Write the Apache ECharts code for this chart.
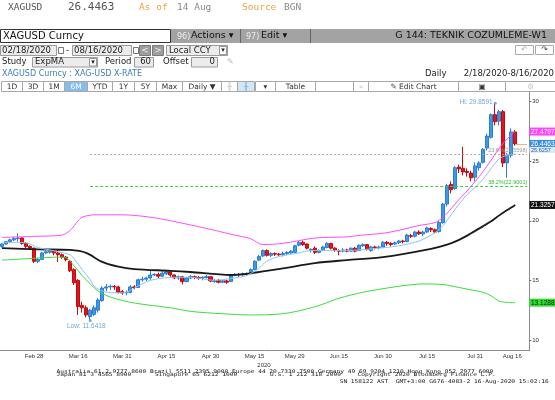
<!DOCTYPE html>
<html>
<head>
<meta charset="utf-8">
<script src="https://cdn.jsdelivr.net/npm/echarts@6.0.0/dist/echarts.min.js"></script>
<style>
  html, body { margin: 0; padding: 0; background: #fff; }
  #main { width: 555px; height: 400px; }
</style>
</head>
<body>
<div id="main"></div>
<script>
// trading days shown on the chart (MM-DD, 2020)
var days = [
  '02-18','02-19','02-20','02-21','02-24','02-25','02-26','02-27','02-28',
  '03-02','03-03','03-04','03-05','03-06','03-09','03-10','03-11','03-12','03-13','03-16','03-17','03-18','03-19','03-20','03-23','03-24','03-25','03-26','03-27','03-30','03-31',
  '04-01','04-02','04-03','04-06','04-07','04-08','04-09','04-10','04-13','04-14','04-15','04-16','04-17','04-20','04-21','04-22','04-23','04-24','04-27','04-28','04-29','04-30',
  '05-01','05-04','05-05','05-06','05-07','05-08','05-11','05-12','05-13','05-14','05-15','05-18','05-19','05-20','05-21','05-22','05-25','05-26','05-27','05-28','05-29',
  '06-01','06-02','06-03','06-04','06-05','06-08','06-09','06-10','06-11','06-12','06-15','06-16','06-17','06-18','06-19','06-22','06-23','06-24','06-25','06-26','06-29','06-30',
  '07-01','07-02','07-03','07-06','07-07','07-08','07-09','07-10','07-13','07-14','07-15','07-16','07-17','07-20','07-21','07-22','07-23','07-24','07-27','07-28','07-29','07-30','07-31',
  '08-03','08-04','08-05','08-06','08-07','08-10','08-11','08-12','08-13','08-14'
];
// empty slots at the right end of the axis (up to the 8/16 end date)
var padDays = ['08-15','08-16','08-17'];

// daily candles: [open, close, low, high]
var candles = [
  [17.85,18.05,17.75,18.10],[18.05,18.25,18.00,18.30],[18.25,18.40,18.15,18.50],[18.40,18.50,18.30,18.65],[18.50,18.55,18.25,18.95],[18.55,18.10,18.00,18.60],[18.10,17.85,17.70,18.20],[17.85,17.70,17.55,17.95],[17.70,16.60,16.45,17.75],
  [16.60,16.75,16.45,16.90],[16.75,17.30,16.70,17.40],[17.30,17.40,17.20,17.50],[17.35,17.45,17.25,17.55],[17.45,17.30,17.10,17.60],[17.30,17.15,16.55,17.55],[17.15,16.95,16.80,17.25],[16.95,16.75,16.60,17.05],[16.60,15.80,15.70,16.70],[15.90,14.80,14.60,16.00],[15.00,12.80,12.10,15.10],[12.90,12.70,12.30,13.20],[12.70,12.10,11.90,12.90],[11.95,12.50,11.6418,12.60],[12.15,12.70,12.00,12.90],[12.50,13.35,12.30,13.50],[13.30,14.35,13.20,14.50],[14.35,14.45,14.10,14.70],[14.45,14.50,14.20,14.65],[14.50,14.45,14.20,14.60],[14.45,14.00,13.90,14.55],[14.05,13.95,13.80,14.20],
  [13.95,14.00,13.75,14.15],[14.00,14.45,13.90,14.60],[14.45,14.40,14.25,14.60],[14.40,15.05,14.35,15.15],[15.05,15.10,14.90,15.30],[15.10,15.20,14.95,15.30],[15.20,15.45,15.05,15.90],[15.45,15.50,15.35,15.60],[15.50,15.35,15.20,15.65],[15.35,15.60,15.30,15.75],[15.55,15.70,15.45,15.80],[15.70,15.45,15.30,15.75],[15.45,15.20,15.10,15.50],[15.20,15.30,15.05,15.40],[15.30,14.90,14.65,15.35],[14.90,15.20,14.85,15.30],[15.20,15.30,15.10,15.45],[15.30,15.25,15.10,15.40],[15.25,15.20,15.05,15.35],[15.20,15.25,15.00,15.35],[15.25,15.30,15.15,15.45],[15.30,14.95,14.85,15.35],
  [14.90,15.00,14.80,15.10],[15.00,14.85,14.75,15.10],[14.85,14.95,14.80,15.05],[14.95,14.85,14.70,15.05],[14.90,15.40,14.85,15.50],[15.40,15.50,15.35,15.60],[15.50,15.45,15.30,15.60],[15.45,15.55,15.35,15.65],[15.55,15.50,15.40,15.65],[15.55,15.90,15.50,16.00],[15.90,16.60,15.85,16.70],[16.70,17.00,16.60,17.15],[17.05,17.50,16.95,17.60],[17.50,17.10,17.00,17.60],[17.10,17.25,16.95,17.35],[17.25,17.20,17.05,17.35],[17.20,17.15,17.05,17.30],[17.15,17.25,17.00,17.40],[17.25,17.35,17.10,17.45],[17.30,17.45,17.20,17.55],[17.35,17.90,17.30,18.00],
  [17.95,18.20,17.85,18.30],[18.20,18.00,17.90,18.35],[18.05,17.70,17.60,18.10],[17.50,17.60,17.35,17.70],[17.70,17.35,17.20,17.85],[17.35,17.50,17.25,17.60],[17.50,17.80,17.45,17.90],[17.75,18.10,17.70,18.20],[18.10,17.70,17.60,18.15],[17.70,17.50,17.40,17.80],[17.50,17.45,17.10,17.60],[17.45,17.55,17.35,17.70],[17.55,17.45,17.35,17.65],[17.45,17.70,17.40,17.75],[17.70,17.45,17.35,17.80],[17.50,17.95,17.45,18.00],[17.90,18.00,17.80,18.10],[18.00,17.60,17.50,18.05],[17.50,17.80,17.40,17.90],[17.80,17.75,17.60,17.90],[17.75,17.80,17.60,17.90],[17.80,18.20,17.75,18.30],
  [18.20,18.10,17.90,18.30],[18.10,18.00,17.85,18.20],[18.05,18.15,17.95,18.25],[18.15,18.30,18.05,18.40],[18.30,18.25,18.10,18.40],[18.25,18.80,18.20,18.90],[18.75,18.70,18.55,18.90],[18.70,19.05,18.60,19.15],[19.05,18.90,18.80,19.20],[18.90,19.05,18.70,19.15],[19.05,19.40,19.00,19.50],[19.35,19.25,19.05,19.45],[19.25,19.05,18.95,19.35],[19.10,19.85,19.00,20.00],[19.85,21.40,19.75,21.50],[21.40,22.95,21.20,23.10],[23.05,22.60,22.30,23.30],[22.70,24.45,22.60,24.60],[24.50,24.35,24.00,24.70],[24.40,24.10,23.80,26.20],[24.15,24.05,23.70,24.40],[24.00,23.60,23.30,24.20],[23.65,24.60,23.30,24.90],
  [24.45,24.85,24.20,25.00],[24.90,26.00,24.80,26.10],[26.10,27.10,25.90,27.30],[27.00,28.90,26.90,29.00],[28.90,28.30,28.00,29.8591],[28.35,29.15,28.00,29.30],[29.15,24.85,24.50,29.30],[24.85,25.50,23.60,25.70],[25.50,27.45,25.30,27.75],[27.45,26.4463,26.30,27.60]
];

// study lines: [day index, value]
var upperBand = [[0,18.6],[9,18.7],[15,18.8],[17,19.2],[19,20.0],[20,20.3],[23,20.5],[30,20.5],[38,20.25],[47,19.65],[53,19.2],[58,18.8],[62,18.5],[65,18.0],[70,18.1],[78,18.55],[86,18.65],[90,18.8],[95,18.95],[99,19.2],[104,19.6],[108,19.85],[110,20.3],[112,21.0],[114,21.8],[116,22.5],[117,22.9],[119,23.7],[121,24.6],[123,25.6],[125,26.5],[127,27.2],[128,27.4797]];
var lowerBand = [[0,16.7],[8,16.85],[14,16.95],[16,16.9],[18,16.2],[20,15.4],[22,14.7],[24,14.1],[27,13.6],[33,13.1],[42,12.7],[47,12.4],[55,12.2],[62,12.1],[70,12.2],[76,12.6],[80,13.0],[84,13.5],[90,14.0],[95,14.3],[100,14.55],[105,14.7],[110,14.65],[114,14.4],[117,14.2],[120,14.0],[122,13.7],[124,13.25],[126,13.15],[128,13.1288]];
var expMa = [[0,17.7],[9,17.6],[17,17.55],[21,17.3],[25,16.55],[29,16.15],[33,15.95],[42,15.8],[47,15.7],[57,15.45],[62,15.6],[70,16.0],[78,16.45],[86,16.7],[95,16.95],[107,17.65],[111,18.0],[114,18.4],[117,18.95],[120,19.55],[122,19.95],[124,20.45],[126,20.9],[128,21.3257]];
var shortMa = [[0,18.2],[6,18.15],[9,17.75],[12,17.55],[14,17.4],[17,17.15],[18,16.8],[20,15.9],[22,15.05],[23,14.5],[25,14.1],[28,13.95],[31,14.0],[33,14.35],[37,15.0],[43,15.25],[47,15.25],[53,15.0],[57,15.15],[61,15.4],[64,16.0],[66,16.6],[69,17.0],[74,17.3],[77,17.5],[82,17.5],[86,17.5],[94,17.7],[99,17.9],[104,18.3],[108,19.0],[110,19.6],[112,20.5],[114,21.4],[116,22.2],[118,22.8],[120,23.5],[122,24.4],[124,25.2],[126,25.5],[128,25.6257]];

// fibonacci retracement between the low and the high
var fibLevels = [25.5598, 22.9001];
var fibNames = ['23.6%(25.5598)', '38.2%(22.9001)'];
var lowPoint = ['03-19', 11.6418];
var highPoint = ['08-07', 29.8591];
var lastPrice = 26.4463;

// right-hand value tags (upper band, last, short ma, expma, lower band)
var endTags = [27.4797, 26.4463, 25.6257, 21.3257, 13.1288];

var yTicks = [10, 15, 20, 25, 30];
var tickDays = ['02-28','03-16','03-31','04-15','04-30','05-15','05-29','06-15','06-30','07-15','07-31','08-16'];
var tickText = ['Feb 28','Mar 16','Mar 31','Apr 15','Apr 30','May 15','May 29','Jun 15','Jun 30','Jul 15','Jul 31','Aug 16'];

var SANS = "'Liberation Sans', Arial, sans-serif";
var allDays = days.concat(padDays);
function pairs(arr) { return arr.map(function (p) { return [days[p[0]], p[1]]; }); }
function isTick(i, v) { return tickDays.indexOf(v) >= 0; }

var myChart = echarts.init(document.getElementById('main'));

function lineSeries(data, color, width) {
  return {
    type: 'line', data: pairs(data), symbol: 'none', smooth: 0.3, z: 3,
    lineStyle: { color: color, width: width }, silent: true
  };
}

myChart.setOption({
  animation: false,
  backgroundColor: '#fff',
  textStyle: { fontFamily: SANS },
  grid: { left: -4.02, top: 92, width: 533.3, height: 258.7 },
  xAxis: {
    type: 'category', data: allDays, boundaryGap: true,
    axisLine: { lineStyle: { color: '#8c8c8c', width: 1 } },
    axisTick: { interval: isTick, alignWithLabel: true, length: 2, lineStyle: { color: '#999' } },
    axisLabel: {
      interval: isTick, fontSize: 6, color: '#333', margin: 3,
      formatter: function (v) {
        var t = tickText[tickDays.indexOf(v)];
        return v === '08-16' ? '{e|' + t + '}' : t;
      },
      rich: { e: { fontSize: 6, color: '#333', padding: [0, 22, 0, 0] } }
    },
    splitLine: { show: false }
  },
  yAxis: {
    type: 'value', position: 'right', min: 9.1, max: 30.8, scale: true,
    axisLine: { show: true, lineStyle: { color: '#8c8c8c' } },
    axisTick: { show: true, length: 2, customValues: yTicks, lineStyle: { color: '#666' } },
    axisLabel: { customValues: yTicks, fontSize: 6, color: '#333', margin: 3 },
    splitLine: { show: false }
  },
  series: [
    {
      type: 'candlestick', data: candles, barWidth: 3.6, z: 2,
      itemStyle: { color: '#3f97ec', color0: '#e5141a', borderColor: '#2a7fd2', borderColor0: '#c20a0f', borderWidth: 1 },
      markLine: {
        symbol: 'none', silent: true, animation: false,
        data: [
          [{ coord: [lowPoint[0], fibLevels[0]], lineStyle: { color: '#a6a6a6', type: [2, 2], width: 1 },
             label: { show: true, position: 'insideEndTop', formatter: fibNames[0], color: '#9a9a9a', fontSize: 5.5, distance: [0, 1] } },
           { coord: [padDays[2], fibLevels[0]] }],
          [{ coord: [lowPoint[0], fibLevels[1]], lineStyle: { color: '#3ccc3c', type: [3, 2], width: 1 },
             label: { show: true, position: 'insideEndTop', formatter: fibNames[1], color: '#33bb33', fontSize: 5.5, distance: [0, 1] } },
           { coord: [padDays[2], fibLevels[1]] }],
          [{ coord: [days[days.length - 1], lastPrice], lineStyle: { color: '#f5b377', type: 'solid', width: 1 }, label: { show: false } },
           { coord: [padDays[2], lastPrice] }]
        ]
      },
      markPoint: {
        silent: true, animation: false,
        data: [
          { coord: lowPoint, symbol: 'circle', symbolSize: 3, itemStyle: { color: '#6fa8dc' },
            label: { show: true, position: 'bottom', distance: 1, offset: [-4, 0], formatter: 'Low: 11.6418', color: '#6fa8dc', fontSize: 6.5 } },
          { coord: highPoint, symbol: 'circle', symbolSize: 3, itemStyle: { color: '#6fa8dc' },
            label: { show: true, position: 'left', distance: 1, offset: [0, -1], formatter: 'Hi: 29.8591', color: '#6fa8dc', fontSize: 6.5 } }
        ]
      }
    },
    lineSeries(lowerBand, '#3ddc3d', 1),
    lineSeries(expMa, '#1a1a1a', 1.8),
    lineSeries(shortMa, '#8cc6f4', 1),
    lineSeries(upperBand, '#ff4cff', 1)
  ]
});

// ---- terminal chrome drawn around the chart ----
function T(x, y, s, o) {
  o = o || {};
  return { type: 'text', x: x, y: y, z: 20, silent: true, scaleX: o.sx || 1, scaleY: o.sy || 1,
    style: { text: s, fill: o.c || '#222', font: o.f || "8.5px 'DejaVu Sans'", textAlign: o.a || 'left', textVerticalAlign: 'middle' } };
}
function R(x, y, w, h, fill, stroke) {
  return { type: 'rect', z: 19, silent: true, shape: { x: x, y: y, width: w, height: h },
    style: { fill: fill || 'none', stroke: stroke || null, lineWidth: 1 } };
}

var g = [];
var MONO = "'DejaVu Sans Mono', monospace";
// row 1
g.push(T(8, 7.5, 'XAGUSD', { f: '9.5px ' + MONO, c: '#555' }));
g.push(T(68, 7.5, '26.4463', { f: '11px ' + MONO, c: '#555' }));
g.push(T(139, 7.5, 'As of', { f: '9.5px ' + MONO, c: '#f0a040' }));
g.push(T(177, 7.5, '14 Aug', { f: '9.5px ' + MONO, c: '#8a8a8a' }));
g.push(T(242, 7.5, 'Source', { f: '9.5px ' + MONO, c: '#f0a040' }));
g.push(T(284, 7.5, 'BGN', { f: '9.5px ' + MONO, c: '#8a8a8a' }));
// row 2
g.push(R(171, 29, 384, 14, '#a3a3a3'));
g.push(R(0.5, 29.5, 170, 13, '#fff', '#333'));
g.push(T(3, 36, 'XAGUSD Curncy', { f: "10px 'DejaVu Sans'", c: '#111' }));
g.push(T(177, 36.5, '96)', { f: "8px 'DejaVu Sans'", c: '#ececec' }));
g.push(T(191, 36, 'Actions \u25BE', { f: "9.5px 'DejaVu Sans'", c: '#111' }));
g.push(R(240, 29, 1, 14, '#666'));
g.push(T(246, 36.5, '97)', { f: "8px 'DejaVu Sans'", c: '#ececec' }));
g.push(T(261, 36, 'Edit \u25BE', { f: "9.5px 'DejaVu Sans'", c: '#111' }));
g.push(R(310, 29, 1, 14, '#666'));
g.push(T(547, 36, 'G 144: TEKNIK COZUMLEME-W1', { f: "9.5px 'DejaVu Sans'", c: '#111', a: 'right' }));
// row 3
g.push(R(0.5, 45.5, 56, 10, '#ececec', '#9a9a9a'));
g.push(T(2, 50.5, '02/18/2020'));
g.push(R(58.5, 47.5, 5, 6, '#fff', '#777'));
g.push(T(66, 50.5, '-'));
g.push(R(72.5, 45.5, 59, 10, '#ececec', '#9a9a9a'));
g.push(T(74, 50.5, '08/16/2020'));
g.push(R(133.5, 47.5, 5, 6, '#fff', '#777'));
g.push(R(139.5, 45.5, 11, 10, '#9e9e9e', '#7a7a7a'));
g.push(T(145, 50.5, '<', { c: '#eee', a: 'center' }));
g.push(R(152.5, 45.5, 11, 10, '#9e9e9e', '#7a7a7a'));
g.push(T(158, 50.5, '>', { c: '#eee', a: 'center' }));
g.push(R(166.5, 45.5, 61, 10, '#ececec', '#9a9a9a'));
g.push(T(169, 50.5, 'Local CCY'));
g.push(R(219.5, 46.5, 7, 8, '#fff', '#999'));
g.push(T(223, 50.5, '\u25BE', { f: "7px 'DejaVu Sans'", a: 'center' }));
g.push(R(515.5, 45.5, 18, 9, '#fff', '#aaa'));
g.push(T(524.5, 50, '\u21B6', { f: "8px 'DejaVu Sans'", c: '#aaa', a: 'center' }));
g.push(R(535.5, 45.5, 18, 9, '#fff', '#aaa'));
g.push(T(544.5, 50, '\u21B7', { f: "8px 'DejaVu Sans'", c: '#333', a: 'center' }));
// row 4
g.push(T(2, 62, 'Study'));
g.push(R(32.5, 57.5, 65, 9.5, '#ececec', '#9a9a9a'));
g.push(T(35, 62, 'ExpMA'));
g.push(R(89.5, 58.5, 7, 7.5, '#fff', '#999'));
g.push(T(93, 62, '\u25BE', { f: "7px 'DejaVu Sans'", a: 'center' }));
g.push(T(105, 62, 'Period'));
g.push(R(134.5, 57.5, 19, 9.5, '#ececec', '#9a9a9a'));
g.push(T(151, 62, '60', { a: 'right' }));
g.push(T(163, 62, 'Offset'));
g.push(R(191.5, 57.5, 26, 9.5, '#ececec', '#9a9a9a'));
g.push(T(215, 62, '0', { a: 'right' }));
g.push(T(227, 62, '\u270E', { f: "8px 'DejaVu Sans'", c: '#bbb' }));
// row 5
g.push(T(2, 74, 'XAGUSD Curncy : XAG-USD X-RATE', { f: "8px 'DejaVu Sans'", c: '#3d7dbd' }));
g.push(T(425, 74, 'Daily'));
g.push(T(554, 74, '2/18/2020-8/16/2020', { a: 'right' }));
// row 6 toolbar
var cells = [
  ['1D', 1, 22], ['3D', 22, 43], ['1M', 43, 64], ['6M', 64, 87], ['YTD', 87, 112], ['1Y', 112, 134],
  ['5Y', 134, 156], ['Max', 156, 182], ['Daily \u25BC', 182, 221], ['\u256B', 221, 237], ['\u256B', 237, 254],
  ['\u25BE', 255, 275], ['Table', 275, 315], ['', 315, 353], ['\u00AB', 353, 368], ['\u270E Edit Chart', 368, 458],
  ['\u25A3', 458, 505], ['\u2699', 505, 555]
];
cells.forEach(function (c) {
  var active = c[0] === '6M', soft = c[0] === '\u256B' && c[1] === 237;
  g.push(R(c[1] + 0.5, 81.5, c[2] - c[1], 10, active ? '#86bdec' : (soft ? '#d3e6f8' : '#fff'), '#a8a8a8'));
  var col = active ? '#fff' : (/^[\u256B\u00AB\u2699]$/.test(c[0]) ? (soft ? '#7fb3e3' : '#c4c4c4') : '#333');
  g.push(T((c[1] + c[2]) / 2 + 0.5, 86.7, c[0], { f: "7.5px 'DejaVu Sans'", c: col, a: 'center' }));
});
// axis caption and footer
g.push(T(264, 365.4, '2020', { f: '6px ' + SANS, c: '#333', a: 'center' }));
var ft = { f: '5px ' + MONO, c: '#111', sx: 1.24 };
g.push(T(56.6, 371.8, 'Australia 61 2 9777 8600 Brazil 5511 2395 9000 Europe 44 20 7330 7500 Germany 49 69 9204 1210 Hong Kong 852 2977 6000', ft));
g.push(T(56.6, 375.2, 'Japan 81 3 4565 8900', ft));
g.push(T(155, 375.2, 'Singapore 65 6212 1000', ft));
g.push(T(270, 375.2, 'U.S. 1 212 318 2000', ft));
g.push(T(357.5, 375.2, 'Copyright 2020 Bloomberg Finance L.P.', ft));
g.push(T(548.7, 381.3, 'SN 158122 AST  GMT+3:00 G676-4083-2 16-Aug-2020 15:02:16', { f: '5px ' + MONO, c: '#111', sx: 1.24, a: 'right' }));

// value tags on the right axis
var tagLook = [
  { bg: '#ff44ff', fg: '#fff', h: 8 },
  { bg: '#3b8ee0', fg: '#fff', h: 8 },
  { bg: '#dbe8f7', fg: '#2a6cb8', h: 6, snug: true },
  { bg: '#111', fg: '#fff', h: 8 },
  { bg: '#2ee02e', fg: '#111', h: 8 }
];
var prevBottom = -1e9;
endTags.forEach(function (v, i) {
  var s = tagLook[i];
  var y = myChart.convertToPixel({ yAxisIndex: 0 }, v);
  if (s.snug) y = prevBottom + s.h / 2 - 1;
  y = Math.max(y, prevBottom + s.h / 2 - 1);
  g.push(R(529.5, y - s.h / 2, 26, s.h, s.bg));
  g.push(T(531, y + 0.3, v.toFixed(4), { f: (s.snug ? '5.5px ' : '6.5px ') + SANS, c: s.fg }));
  prevBottom = y + s.h / 2;
});

myChart.setOption({ graphic: { elements: g } });
</script>
</body>
</html>
